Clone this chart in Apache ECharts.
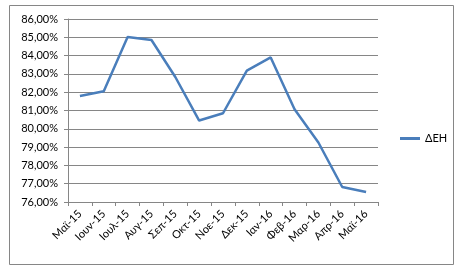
<!DOCTYPE html>
<html><head><meta charset="utf-8">
<script src="https://cdn.jsdelivr.net/npm/echarts@6/dist/echarts.min.js"></script>
<style>html,body{margin:0;padding:0;background:#fff}#c{width:464px;height:272px}</style>
</head><body><div id="c"></div>
<script>
const categories = ['Μαϊ-15','Ιουν-15','Ιουλ-15','Αυγ-15','Σεπ-15','Οκτ-15','Νοε-15','Δεκ-15','Ιαν-16','Φεβ-16','Μαρ-16','Απρ-16','Μαϊ-16'];
const seriesName = 'ΔΕΗ';
const values = [81.79, 82.05, 85.02, 84.85, 82.83, 80.45, 80.85, 83.18, 83.9, 81.07, 79.25, 76.82, 76.55];
const yMin = 76, yMax = 86, yStep = 1;

const chart = echarts.init(document.getElementById('c'));
const font = 'Lato, "Open Sans", sans-serif';
chart.setOption({
  animation: false,
  graphic: [{type:'rect', shape:{x:9.5,y:5.5,width:444,height:259}, style:{fill:'none', stroke:'#868686', lineWidth:1}, silent:true}],
  grid: {left: 68, right: 86, top: 19, bottom: 70},
  legend: {
    data: [seriesName], left: 395, top: 128, icon: 'rect', itemWidth: 20, itemHeight: 3, itemGap: 2,
    textStyle: {fontFamily: font, fontSize: 11, color: '#000'}
  },
  xAxis: {
    type: 'category', data: categories, boundaryGap: true,
    axisLine: {lineStyle: {color: '#868686'}},
    axisTick: {show: true, length: 4, lineStyle: {color: '#868686'}},
    axisLabel: {rotate: 45, fontFamily: font, fontSize: 11, color: '#000', margin: 10, interval: 0}
  },
  yAxis: {
    type: 'value', min: yMin, max: yMax, interval: yStep,
    axisLine: {show: true, lineStyle: {color: '#868686'}},
    axisTick: {show: true, length: 4, lineStyle: {color: '#868686'}},
    splitLine: {lineStyle: {color: '#868686'}},
    axisLabel: {fontFamily: font, fontSize: 11, color: '#000', margin: 10,
      formatter: v => v.toFixed(2).replace('.', ',') + '%'}
  },
  series: [{
    name: seriesName, type: 'line', data: values, symbol: 'none',
    lineStyle: {color: '#4A7EBB', width: 2.5}, itemStyle: {color: '#4A7EBB'}
  }]
});
</script></body></html>
